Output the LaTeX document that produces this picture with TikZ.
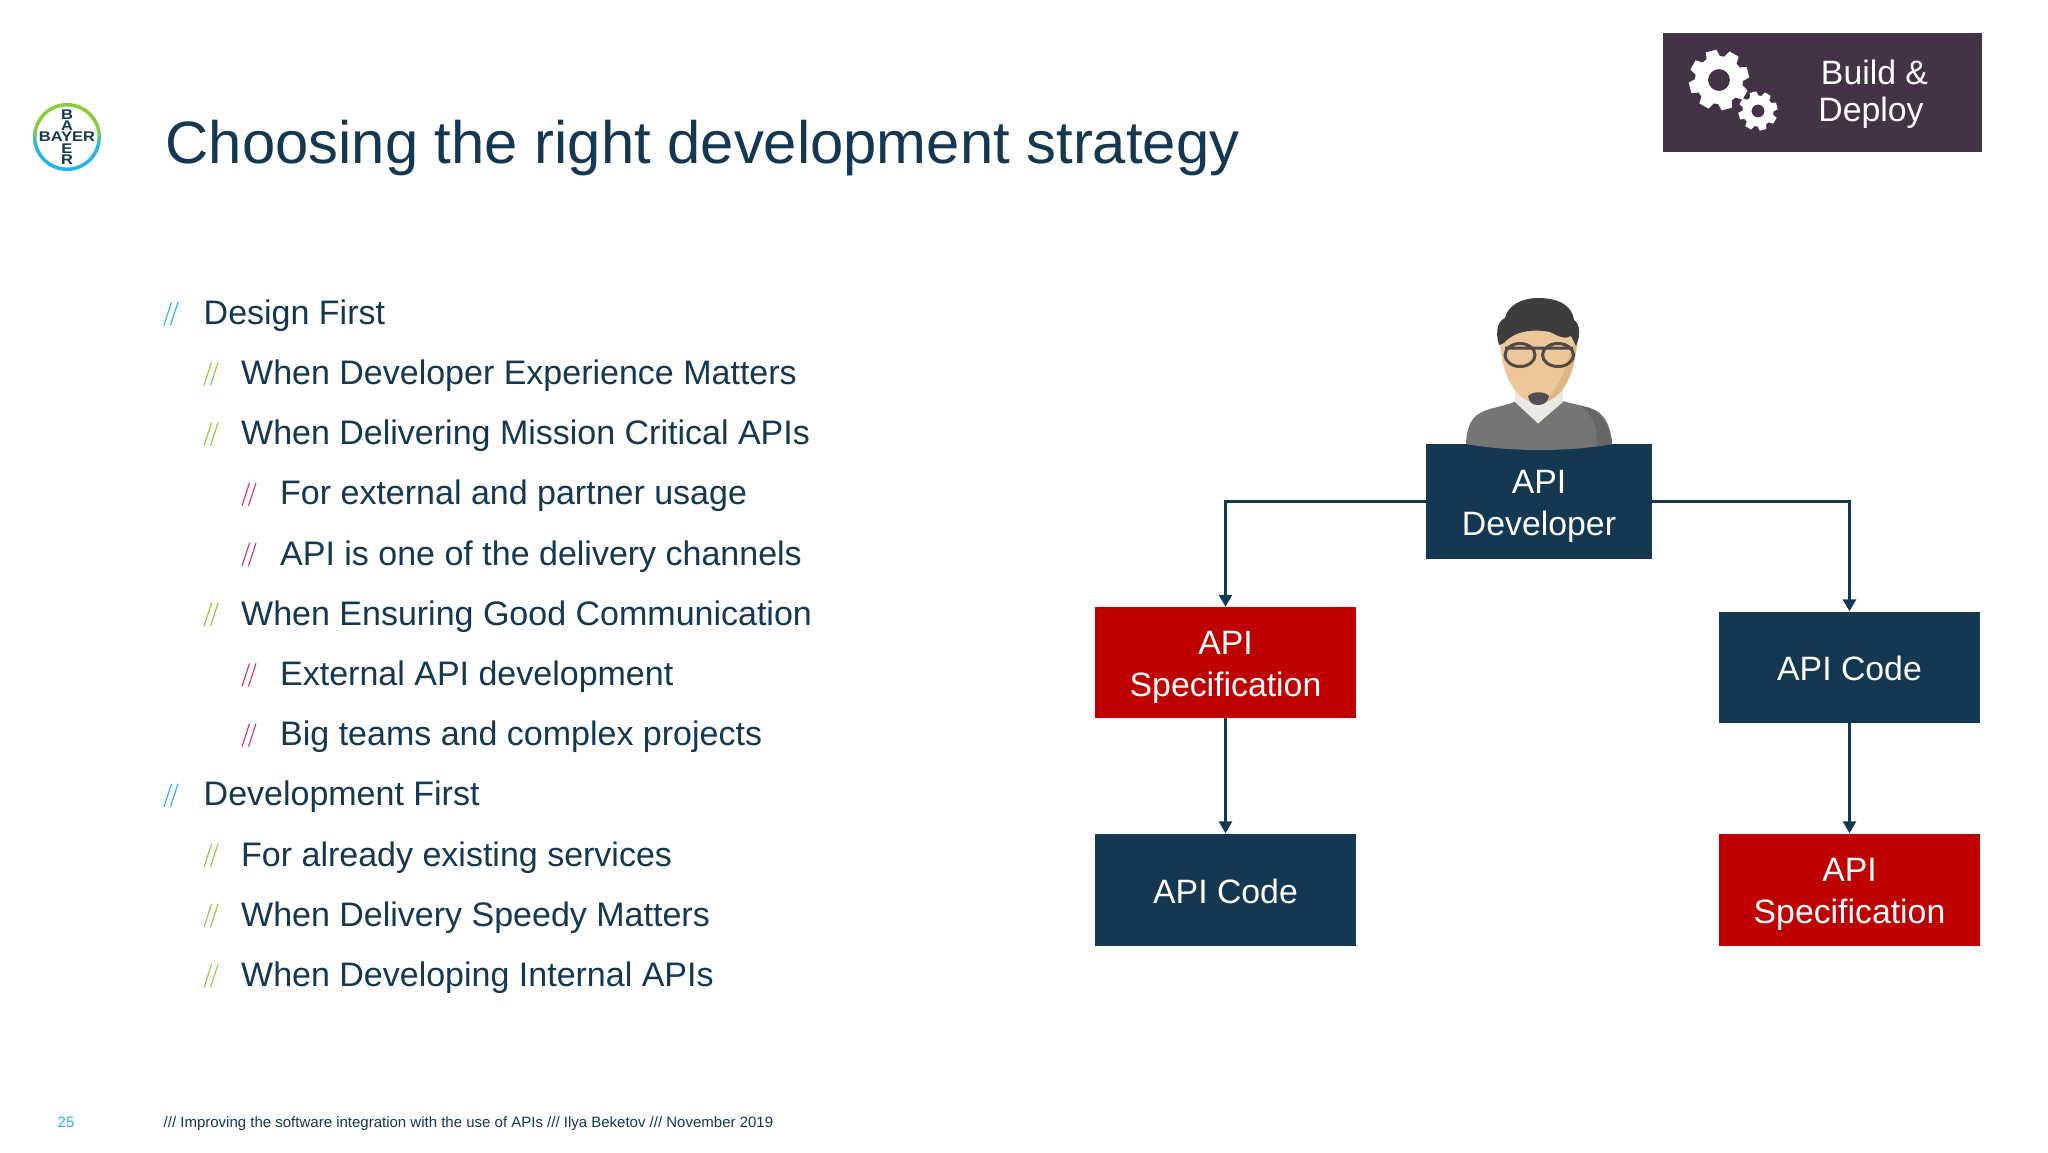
\documentclass[tikz,border=0pt]{standalone}
\usepackage{fontspec}
\setmainfont{Liberation Sans}
\usetikzlibrary{arrows.meta}
\definecolor{navy}{HTML}{143852}
\definecolor{apired}{HTML}{BE0000}
\definecolor{plum}{HTML}{443247}
\definecolor{bblue}{HTML}{22B5EA}
\definecolor{bgreen}{HTML}{8CCB3A}
\definecolor{bred}{HTML}{D6336C}
\definecolor{sweater}{HTML}{757575}
\definecolor{sweaterd}{HTML}{666666}
\definecolor{skin}{HTML}{EDC799}
\definecolor{skind}{HTML}{DFB583}
\definecolor{hair}{HTML}{3D3D40}
\definecolor{collar}{HTML}{E9E8E3}
\pgfdeclareverticalshading{bayerring}{100bp}{color(0bp)=(bblue); color(42bp)=(bblue); color(56bp)=(bgreen); color(100bp)=(bgreen)}
\newcommand{\twolinestrut}{\rule{0pt}{32pt}}
\newcommand{\onelinestrut}{\rule{0pt}{28pt}}
\tikzset{
  x=1pt,y=-1pt,
  box/.style={minimum width=261pt,minimum height=111pt,align=center,text=white,inner sep=0pt,font=\fontsize{33.8}{42}\selectfont},
  nbox/.style={box,fill=navy},
  rbox/.style={box,fill=apired},
  conn/.style={draw=navy,line width=2.6pt,-{Triangle[length=12pt,width=13pt]}},
  txt/.style={anchor=base west,text=navy,inner sep=0pt,font=\fontsize{34}{40}\selectfont},
  slashmark/.style={line width=1.1pt,draw=#1},
  logotxt/.style={font=\bfseries\fontsize{14}{14}\selectfont,text=navy,inner sep=0pt},
}
\newcommand{\bulletmark}[3]{%
 \draw[slashmark=#3] (#1,#2+1) -- (#1+7.5,#2-22);
 \draw[slashmark=#3] (#1+6.5,#2+1) -- (#1+14,#2-22);
}
\begin{document}
\begin{tikzpicture}
\useasboundingbox (0,0) rectangle (2048,1152);
\fill[white] (0,0) rectangle (2048,1152);
% logo
\shade[shading=bayerring,even odd rule]
  (67,137) circle[radius=34] (67,137) circle[radius=30.5];
\node[logotxt,xscale=1.18] (logoh) at (67,137) {BAYER};
\foreach \l/\y in {B/114.5,A/125.5,E/148.5,R/159.5}
  \node[logotxt,xscale=1.18] (logo\l) at (67,\y) {\l};
% title
\node[anchor=base west,text=navy,inner sep=0pt,font=\fontsize{59.8}{70}\selectfont] (title) at (165.5,163) {Choosing the right development strategy};
% build
\node[fill=plum,minimum width=319pt,minimum height=119pt,inner sep=0pt] (bd) at (1822.5,92.5) {};
\node[text=white,align=center,inner sep=0pt,font=\fontsize{33.8}{37}\selectfont] (bdt) at (1874.5,94.5) {Build \&\\Deploy\hspace*{7pt}};
% gears
\foreach \cx/\cy/\R/\r/\h/\n/\w in {1719/80/30/23/11/8/7, 1758/111/19.5/14.5/6.5/8/4.5}{
  \foreach \k in {1,...,\n}{
    \pgfmathsetmacro{\ang}{\k*360/\n+15}
    \fill[white,rotate around={\ang:(\cx,\cy)}] (\cx-\w,\cy-\r) -- (\cx-\w*.75,\cy-\R) -- (\cx+\w*.75,\cy-\R) -- (\cx+\w,\cy-\r) -- cycle;
  }
  \fill[white,even odd rule] (\cx,\cy) circle[radius=\r+1] (\cx,\cy) circle[radius=\h];
}
% boxes
\node[nbox,minimum width=226pt,minimum height=115pt] (dev) at (1539,501.5) {\twolinestrut API\\Developer};
\node[rbox] (specl) at (1225.5,662.5) {\twolinestrut API\\Specification};
\node[nbox] (coder) at (1849.5,667) {\onelinestrut API Code};
\node[nbox,minimum height=112pt] (codel) at (1225.5,889.5) {\onelinestrut API Code};
\node[rbox,minimum height=112pt] (specr) at (1849.5,889.5) {\twolinestrut API\\Specification};
\draw[conn] (dev.west) -| (specl.north);
\draw[conn] (dev.east) -| (coder.north);
\draw[conn] (specl.south) -- (codel.north);
\draw[conn] (coder.south) -- (specr.north);
% person
\fill[sweater] (1466,444) .. controls (1467,425) and (1472,416) .. (1484,411) .. controls (1498,406) and (1510,405) .. (1518,400) -- (1560,400) .. controls (1570,404) and (1585,405) .. (1597,411) .. controls (1606,417) and (1611,428) .. (1612,444) .. controls (1570,452) and (1510,452) .. (1466,444) -- cycle;
\fill[sweaterd] (1590,408) .. controls (1602,414) and (1611,428) .. (1612,444) -- (1597,446) .. controls (1597,430) and (1595,415) .. (1580,406) -- cycle;
\fill[collar] (1515,391) -- (1563,391) -- (1563,402) -- (1538,423.5) -- (1515,402) -- cycle;
\fill[skin] (1500,340) .. controls (1499,300) and (1578,300) .. (1577,340) .. controls (1577,365) and (1566,403) .. (1538,403) .. controls (1512,403) and (1500,365) .. (1500,340) -- cycle;
\fill[skind] (1577,340) .. controls (1576,365) and (1566,396) .. (1545,402) .. controls (1560,385) and (1568,365) .. (1570,350) -- cycle;
\fill[hair] (1499,345) .. controls (1494,328) and (1500,320) .. (1505,318) .. controls (1508,305) and (1522,298) .. (1538,298) .. controls (1558,298) and (1572,305) .. (1574,320) .. controls (1580,324) and (1581,335) .. (1576,346) -- (1571,336) .. controls (1565,340) and (1558,336) .. (1550,332) .. controls (1535,329) and (1515,330) .. (1504,343) -- cycle;
\draw[line width=3pt,draw=hair!90!skin] (1520,355) ellipse[x radius=15,y radius=11.5] (1558,355) ellipse[x radius=15.5,y radius=11.5] (1505,348) -- (1573,348);
\fill[hair!80!black!85!white] (1528,396) .. controls (1533,391) and (1544,391) .. (1549,396) .. controls (1548,402) and (1544,405) .. (1538,405) .. controls (1532,405) and (1529,402) .. (1528,396) -- cycle;
% list
\foreach \n/\x/\b/\c/\t in {
  0/203.5/164/bblue/Design First,
  1/241/204/bgreen/When Developer Experience Matters,
  2/241/204/bgreen/When Delivering Mission Critical APIs,
  3/280/242/bred/For external and partner usage,
  4/280/242/bred/API is one of the delivery channels,
  5/241/204/bgreen/When Ensuring Good Communication,
  6/280/242/bred/External API development,
  7/280/242/bred/Big teams and complex projects,
  8/203.5/164/bblue/Development First,
  9/241/204/bgreen/For already existing services,
  10/241/204/bgreen/When Delivery Speedy Matters,
  11/241/204/bgreen/When Developing Internal APIs}{
  \pgfmathsetmacro{\yy}{324.2+60.2*\n}
  \bulletmark{\b}{\yy}{\c}
  \node[txt] (item\n) at (\x,\yy) {\t};
}
% footer
\node[anchor=base west,inner sep=0pt,text=bblue,font=\fontsize{15}{16}\selectfont] (page) at (57.5,1127) {25};
\node[anchor=base west,inner sep=0pt,text=navy,font=\fontsize{15}{16}\selectfont] (foot) at (163.5,1127) {/// Improving the software integration with the use of APIs /// Ilya Beketov /// November 2019};
\end{tikzpicture}
\end{document}
